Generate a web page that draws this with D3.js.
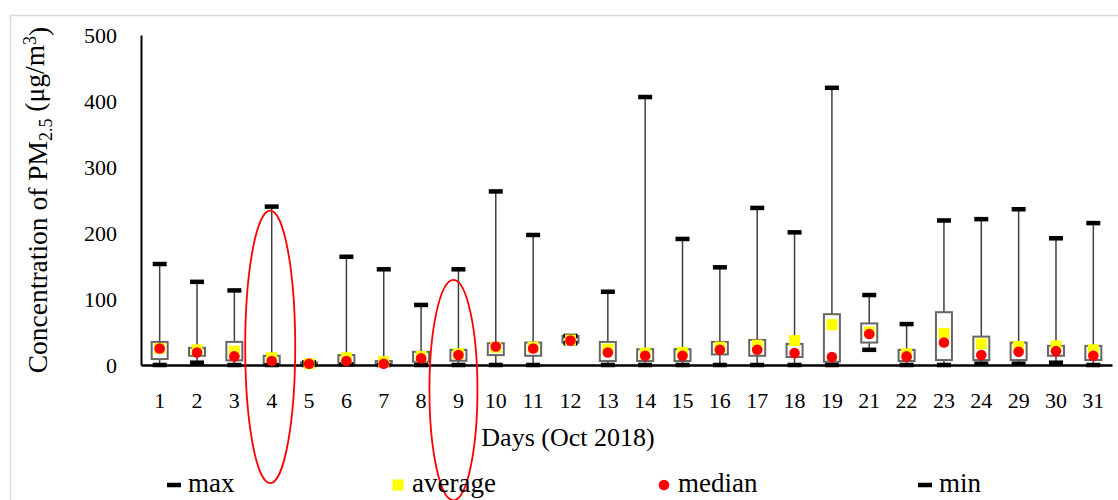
<!DOCTYPE html>
<html>

<head>
    <meta charset="utf-8">
    <title>PM2.5 October 2018</title>
    <script src="https://d3js.org/d3.v7.min.js"></script>
    <style>
        body {
            margin: 0;
            background: #fff;
        }

        text {
            font-family: "Liberation Serif", "Times New Roman", serif;
            fill: #000;
        }

        .tick-label {
            font-size: 22px;
        }

        .axis-title {
            font-size: 26px;
        }

        .legend-label {
            font-size: 27px;
        }
    </style>
</head>

<body>
    <div id="chart"></div>
    <script>
        // Days shown on the x axis (days 20 and 25-28 are missing in the source)
        const days = ["1", "2", "3", "4", "5", "6", "7", "8", "9", "10", "11", "12", "13",
            "14", "15", "16", "17", "18", "19", "21", "22", "23", "24", "29", "30", "31"];

        // Values, in µg/m3
        const maxValues = [153, 126, 113, 240, 4, 164, 145, 91, 145, 263, 197, 44, 111,
            406, 191, 148, 238, 201, 420, 106, 62, 219, 221, 236, 192, 215];
        const q3Values = [35, 26, 35, 14, 4, 15, 6, 20, 23, 33, 34, 44, 35,
            24, 24, 35, 38, 32, 77, 63, 23, 80, 43, 34, 29, 29];
        const q1Values = [9, 14, 7, 1.5, 0, 1.5, 0, 5, 6.5, 15, 14, 34, 6,
            6, 6, 16, 14, 12, 5, 34, 6, 7.5, 7.5, 7.5, 14, 7.5];
        const medianValues = [25, 19, 13, 6, 2, 6, 2, 10, 15, 28, 25, 37, 19,
            14, 14, 23, 23, 18, 12, 47, 13, 34, 15, 20, 21, 14];
        const averageValues = [25, 23, 21, 11, 2, 11, 5, 13, 17, 27, 27, 38, 24,
            18, 19, 27, 30, 37, 61, 50, 17, 48, 32, 28, 29, 23];
        const minValues = [0, 3.5, 0, 0, 0, 1, 0, 0, 0, 0, 0, 33, 0,
            0, 0, 0, 0, 0, 0, 23, 0, 0, 2, 2, 3.5, 0];

        const yTicks = [0, 100, 200, 300, 400, 500];

        // Red hand-drawn ellipses around days 4 and 9 (top / bottom in data units)
        const highlights = [
            { day: "4", top: 234, bottom: -179, dx: -1.5, rx: 25 },
            { day: "9", top: 129, bottom: -205, dx: -5, rx: 24 }
        ];

        const legendItems = [
            { key: "max", x: 174 },
            { key: "average", x: 398 },
            { key: "median", x: 664 },
            { key: "min", x: 925 }
        ];

        const data = days.map((d, i) => ({
            day: d,
            max: maxValues[i],
            q3: q3Values[i],
            q1: q1Values[i],
            median: medianValues[i],
            average: averageValues[i],
            min: minValues[i]
        }));

        const W = 1118, H = 500;
        const plot = { left: 141, right: 1112, top: 35, bottom: 365 };
        const serif = '"Liberation Serif", "Times New Roman", serif';

        const svg = d3.select("#chart").append("svg")
            .attr("width", W)
            .attr("height", H)
            .attr("font-family", serif);

        // light frame of the chart area
        svg.append("rect")
            .attr("x", 10.5)
            .attr("y", 15.5)
            .attr("width", W + 20)
            .attr("height", H + 20)
            .attr("fill", "none")
            .attr("stroke", "#d9d9d9")
            .attr("stroke-width", 1.5);

        const x = d3.scaleBand()
            .domain(days)
            .range([plot.left, plot.right])
            .padding(0);

        const y = d3.scaleLinear()
            .domain([0, 500])
            .range([plot.bottom, plot.top]);

        const cx = d => x(d) + x.bandwidth() / 2;

        // y axis
        const yAxis = svg.append("g")
            .attr("transform", "translate(" + plot.left + ",0)")
            .call(d3.axisLeft(y).tickValues(yTicks).tickSize(0).tickPadding(24));
        yAxis.attr("font-family", serif).attr("font-size", null);
        yAxis.select(".domain").attr("stroke", "#000").attr("stroke-width", 2);
        yAxis.selectAll(".tick text").attr("class", "tick-label");

        // boxes
        const g = svg.append("g");
        const items = g.selectAll("g.day")
            .data(data)
            .enter().append("g")
            .attr("class", "day");

        items.append("line")
            .attr("x1", d => cx(d.day))
            .attr("x2", d => cx(d.day))
            .attr("y1", d => y(d.max))
            .attr("y2", d => y(d.min))
            .attr("stroke", "#404040")
            .attr("stroke-width", 1.5);

        items.append("rect")
            .attr("x", d => cx(d.day) - 8)
            .attr("y", d => y(d.q3))
            .attr("width", 16)
            .attr("height", d => y(d.q1) - y(d.q3))
            .attr("fill", "#fff")
            .attr("stroke", "#666")
            .attr("stroke-width", 2);

        // x axis (drawn over box bottoms, under the caps)
        const xAxis = svg.append("g")
            .attr("transform", "translate(0," + plot.bottom + ")")
            .call(d3.axisBottom(x).tickSize(0).tickPadding(27));
        xAxis.attr("font-family", serif).attr("font-size", null);
        xAxis.select(".domain").attr("stroke", "#000").attr("stroke-width", 2.5);
        xAxis.selectAll(".tick text").attr("class", "tick-label");

        const caps = svg.append("g").selectAll("g")
            .data(data)
            .enter().append("g");
        ["max", "min"].forEach(k => {
            caps.append("rect")
                .attr("x", d => cx(d.day) - 7)
                .attr("y", d => y(d[k]) - 2.25)
                .attr("width", 14)
                .attr("height", 4.5)
                .attr("fill", "#000");
        });

        svg.append("g").selectAll("rect")
            .data(data)
            .enter().append("rect")
            .attr("x", d => cx(d.day) - 5.5)
            .attr("y", d => y(d.average) - 5.5)
            .attr("width", 11)
            .attr("height", 11)
            .attr("fill", "#ffff00");

        svg.append("g").selectAll("circle")
            .data(data)
            .enter().append("circle")
            .attr("cx", d => cx(d.day))
            .attr("cy", d => y(d.median))
            .attr("r", 5.3)
            .attr("fill", "#ff0000");

        // axis titles
        svg.append("text")
            .attr("class", "axis-title")
            .attr("x", 568)
            .attr("y", 446)
            .attr("text-anchor", "middle")
            .text("Days (Oct 2018)");

        const yt = svg.append("text")
            .attr("class", "axis-title")
            .attr("text-anchor", "middle")
            .style("font-size", "27.5px")
            .attr("transform", "translate(47,200) rotate(-90)");
        yt.append("tspan").text("Concentration of PM");
        yt.append("tspan").style("font-size", "18px").attr("dy", "0.3em").text("2.5");
        yt.append("tspan").attr("dy", "-0.3em").text(" (μg/m");
        yt.append("tspan").style("font-size", "18px").attr("dy", "-0.45em").text("3");
        yt.append("tspan").attr("dy", "0.45em").text(")");

        // highlight ellipses
        svg.append("g").selectAll("ellipse")
            .data(highlights)
            .enter().append("ellipse")
            .attr("cx", d => cx(d.day) + d.dx)
            .attr("cy", d => (y(d.top) + y(d.bottom)) / 2)
            .attr("rx", d => d.rx)
            .attr("ry", d => (y(d.bottom) - y(d.top)) / 2)
            .attr("fill", "none")
            .attr("stroke", "#ff0000")
            .attr("stroke-width", 1.8);

        // legend
        const legend = svg.append("g").selectAll("g")
            .data(legendItems)
            .enter().append("g")
            .attr("transform", d => "translate(" + d.x + ",485)");

        legend.each(function (d) {
            const el = d3.select(this);
            if (d.key === "max" || d.key === "min") {
                el.append("rect").attr("x", -7).attr("y", -2.25).attr("width", 14).attr("height", 4.5).attr("fill", "#000");
            } else if (d.key === "average") {
                el.append("rect").attr("x", -5.5).attr("y", -5.5).attr("width", 11).attr("height", 11).attr("fill", "#ffff00");
            } else {
                el.append("circle").attr("r", 5.3).attr("fill", "#ff0000");
            }
        });

        legend.append("text")
            .attr("class", "legend-label")
            .attr("x", 14)
            .attr("y", 7)
            .text(d => d.key);
    </script>
</body>

</html>
